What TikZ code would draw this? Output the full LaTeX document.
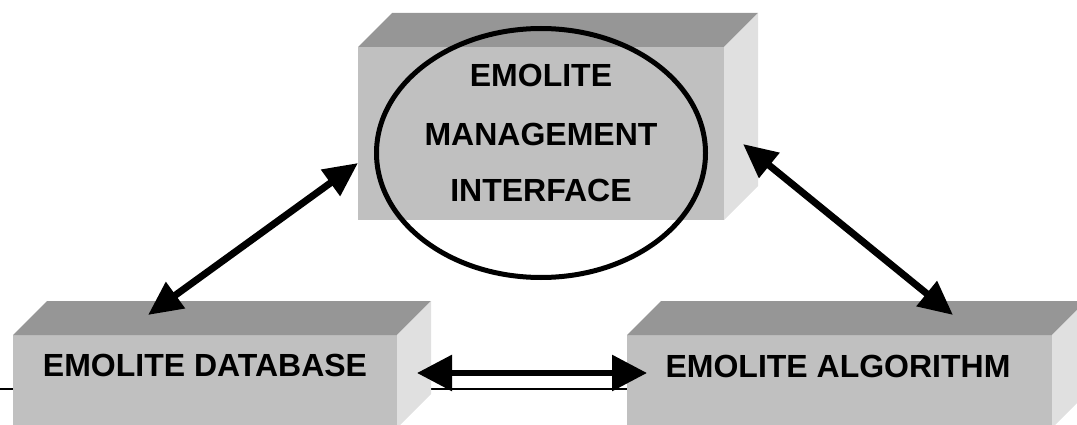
\documentclass[tikz,border=0pt]{standalone}
\usepackage{fontspec}
\setmainfont{Liberation Sans}
\usetikzlibrary{shapes.geometric,arrows.meta}
\definecolor{frontgray}{HTML}{C0C0C0}
\definecolor{topgray}{HTML}{969696}
\definecolor{sidegray}{HTML}{E0E0E0}
\begin{document}
\begin{tikzpicture}[x=1pt,y=-1pt,
    face/.style={rectangle, fill=frontgray, inner sep=0, outer sep=0},
    lbl/.style={anchor=base, inner sep=0, font=\fontsize{32}{32}\selectfont\bfseries},
    link/.style={line width=7pt, {Triangle[length=34pt,width=31pt]}-{Triangle[length=34pt,width=31pt]}}]
  \useasboundingbox (0,0) rectangle (1077,425);
  \clip (0,0) rectangle (1077,425);
  \coordinate (rulel) at (0,389);
  \coordinate (ruler) at (627,389);
  \draw[line width=1.5pt] (rulel) -- (ruler);
  % front faces
  \node[face, minimum width=366pt, minimum height=173pt] (mgmt) at (541,133.5) {};
  \node[face, minimum width=384pt, minimum height=93pt] (db) at (205,381.5) {};
  \node[face, minimum width=425pt, minimum height=93pt] (algo) at (839.5,381.5) {};
  \foreach \b in {mgmt,db,algo}{
    \fill[topgray] (\b.north west) -- (\b.north east) -- ++(34,-34) -- ([shift={(34,-34)}]\b.north west) -- cycle;
    \fill[sidegray] (\b.north east) -- ++(34,-34) -- ([shift={(34,-34)}]\b.south east) -- (\b.south east) -- cycle;
  }
  \node[ellipse, draw, line width=5pt, minimum width=329pt, minimum height=249pt] (ring) at (541,153) {};
  \node[lbl] (t1) at (541,87) {EMOLITE};
  \node[lbl] (t2) at (541,146) {MANAGEMENT};
  \node[lbl] (t3) at (541,202) {INTERFACE};
  \node[lbl] (dbtext) at (205,376) {EMOLITE DATABASE};
  \node[lbl] (algotext) at (838,377) {EMOLITE ALGORITHM};
  \coordinate (dbtip) at (148,315);
  \coordinate (mgmtl) at (358,163);
  \coordinate (mgmtr) at (743,144);
  \coordinate (algotip) at (953,315);
  \coordinate (dbr) at (417,373);
  \coordinate (algol) at (647,373);
  \draw[link] (dbtip) -- (mgmtl);
  \draw[link] (mgmtr) -- (algotip);
  \draw[link, line width=6pt, {Triangle[length=35pt,width=35pt]}-{Triangle[length=35pt,width=35pt]}] (dbr) -- (algol);
\end{tikzpicture}
\end{document}
